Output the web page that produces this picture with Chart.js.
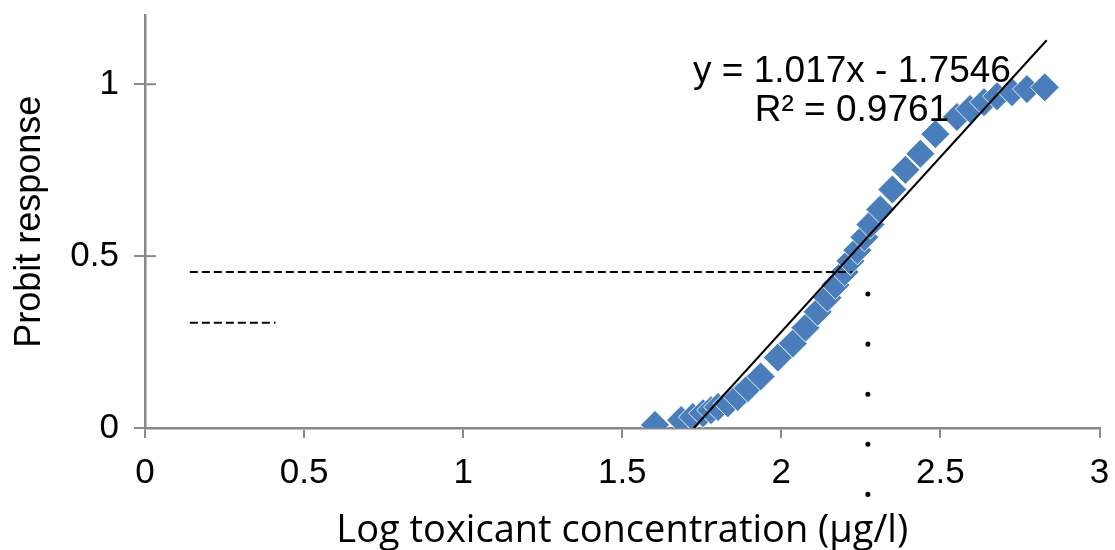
<!DOCTYPE html>
<html>
<head>
<meta charset="utf-8">
<script src="https://cdn.jsdelivr.net/npm/chart.js@4"></script>
<style>
  html, body { margin: 0; padding: 0; background: #fff; }
  #wrap { width: 1115px; height: 550px; }
</style>
</head>
<body>
<div id="wrap"><canvas id="probitChart" width="1115" height="550"></canvas></div>
<script>
// observed points (log concentration vs probit response)
const logConc = [1.603, 1.685, 1.722, 1.754, 1.779, 1.801, 1.832, 1.863, 1.895, 1.935,
  1.989, 2.036, 2.076, 2.114, 2.145, 2.170, 2.199, 2.217, 2.239, 2.261, 2.280,
  2.311, 2.349, 2.390, 2.437, 2.484, 2.552, 2.593, 2.637, 2.678, 2.725, 2.772, 2.828];
const probit = [0.009, 0.023, 0.032, 0.043, 0.052, 0.061, 0.072, 0.090, 0.116, 0.150,
  0.205, 0.246, 0.292, 0.338, 0.379, 0.416, 0.454, 0.486, 0.517, 0.555, 0.592,
  0.636, 0.694, 0.751, 0.798, 0.855, 0.905, 0.928, 0.948, 0.965, 0.977, 0.986, 0.991];

// linear trendline, as drawn
const trendX = [1.725, 2.834];
const trendY = [0.0, 1.128];
const trendLabel = ['y = 1.017x - 1.7546', 'R² = 0.9761'];

// hand-drawn guide lines
const guideLongX = [0.141, 2.223];
const guideLongY = [0.454, 0.454];
const guideShortX = [0.141, 0.41];
const guideShortY = [0.306, 0.306];
const dotsX = [2.272, 2.272];
const dotsY = [0.390, -0.195];

const xTicks = [0, 0.5, 1, 1.5, 2, 2.5, 3];
const yTicks = [0, 0.5, 1];

const pts = (xs, ys) => xs.map((x, i) => ({ x: x, y: ys[i] }));
const axisGrey = '#888888';
const arial = '"Liberation Sans", Arial, sans-serif';

// equation text + the short inner half of the y ticks
const extras = {
  id: 'extras',
  afterDatasetsDraw(chart) {
    const { ctx, scales: { x, y } } = chart;
    ctx.save();
    ctx.strokeStyle = axisGrey;
    ctx.lineWidth = 2;
    yTicks.forEach(v => {
      const py = y.getPixelForValue(v);
      ctx.beginPath();
      ctx.moveTo(x.left, py);
      ctx.lineTo(x.left + 11, py);
      ctx.stroke();
    });
    ctx.fillStyle = '#000';
    ctx.font = '37px ' + arial;
    ctx.textAlign = 'center';
    ctx.textBaseline = 'middle';
    const cx = x.getPixelForValue(2.222);
    ctx.fillText(trendLabel[0], cx, y.getPixelForValue(1.036));
    ctx.fillText(trendLabel[1], cx, y.getPixelForValue(0.922));
    ctx.restore();
  }
};

const noPad = s => { s.paddingTop = 0; s.paddingBottom = 0; s.paddingLeft = 0; s.paddingRight = 0; };

new Chart(document.getElementById('probitChart'), {
  type: 'scatter',
  data: {
    datasets: [
      {
        data: pts(trendX, trendY),
        showLine: true,
        borderColor: '#000',
        borderWidth: 2,
        pointRadius: 0,
        order: 1
      },
      {
        data: pts(guideLongX, guideLongY),
        showLine: true,
        borderColor: '#000',
        borderWidth: 2,
        borderDash: [8, 4],
        pointRadius: 0,
        order: 2
      },
      {
        data: pts(guideShortX, guideShortY),
        showLine: true,
        borderColor: '#000',
        borderWidth: 2,
        borderDash: [8, 4],
        pointRadius: 0,
        order: 3
      },
      {
        data: pts(dotsX, dotsY),
        showLine: true,
        borderColor: '#000',
        borderWidth: 5,
        borderCapStyle: 'round',
        borderDash: [0.1, 50],
        pointRadius: 0,
        clip: false,
        order: 4
      },
      {
        data: pts(logConc, probit),
        pointStyle: 'rectRot',
        pointRadius: 14.5,
        pointBackgroundColor: '#4A7EBB',
        pointBorderColor: 'rgba(255,255,255,0.85)',
        pointBorderWidth: 1,
        order: 5
      }
    ]
  },
  options: {
    responsive: false,
    animation: false,
    devicePixelRatio: 1,
    layout: { padding: { top: 14, right: 10, left: 0, bottom: 0 } },
    plugins: {
      legend: { display: false },
      tooltip: { enabled: false }
    },
    scales: {
      x: {
        type: 'linear',
        min: 0,
        max: 3,
        afterBuildTicks: s => { s.ticks = xTicks.map(v => ({ value: v })); },
        afterFit: s => { s.height = 122; noPad(s); },
        grid: { drawOnChartArea: false, tickLength: 10, color: axisGrey, lineWidth: 2 },
        border: { color: axisGrey, width: 2.5 },
        ticks: {
          color: '#000',
          padding: 14,
          maxRotation: 0,
          callback: v => String(v),
          font: { family: arial, size: 35 }
        },
        title: {
          display: true,
          text: 'Log toxicant concentration (µg/l)',
          color: '#000',
          padding: { top: 0, bottom: 0 },
          font: { family: '"Open Sans", Lato, sans-serif', size: 38, lineHeight: 1.0 }
        }
      },
      y: {
        min: 0,
        max: 1.2,
        afterBuildTicks: s => { s.ticks = yTicks.map(v => ({ value: v })); },
        afterFit: s => { s.width = 145; noPad(s); },
        grid: { drawOnChartArea: false, tickLength: 11, color: axisGrey, lineWidth: 2 },
        border: { color: axisGrey, width: 2.5 },
        ticks: {
          color: '#000',
          padding: 15,
          callback: v => String(v),
          font: { family: arial, size: 35 }
        },
        title: {
          display: true,
          text: 'Probit response',
          color: '#000',
          padding: { top: 8, bottom: 0 },
          font: { family: arial, size: 36, lineHeight: 1.2 }
        }
      }
    }
  },
  plugins: [extras]
});
</script>
</body>
</html>
